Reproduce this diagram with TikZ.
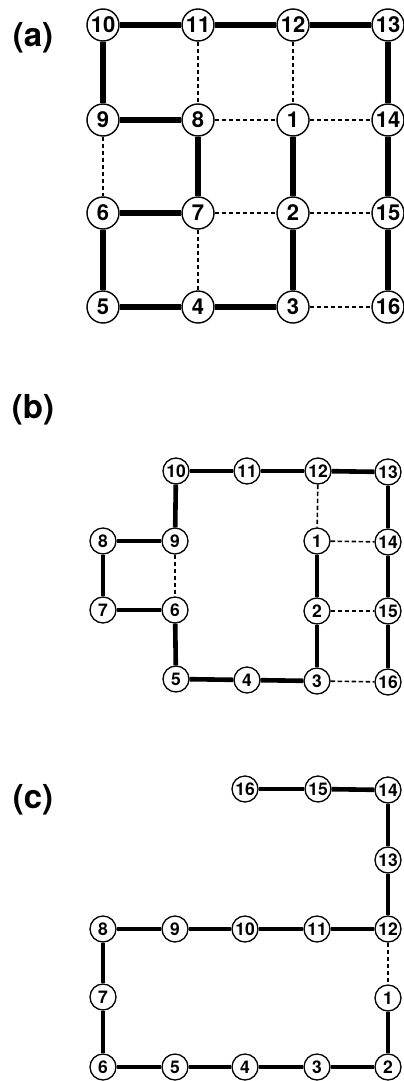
\documentclass[tikz,border=0pt]{standalone}
\usepackage{fontspec}
\setmainfont{TeX Gyre Heros}
\begin{document}
\begin{tikzpicture}[x=1pt,y=-1pt,
  bignode/.style={circle,draw,line width=1.4pt,fill=white,inner sep=0pt,minimum size=32pt,font=\fontsize{22}{22}\selectfont\bfseries},
  smallnode/.style={circle,draw,line width=1.3pt,fill=white,inner sep=0pt,minimum size=26pt,font=\fontsize{17.5}{17.5}\selectfont\bfseries},
  bigthick/.style={line width=6pt},
  smallthick/.style={line width=4.6pt},
  thin/.style={line width=1.6pt,dash pattern=on 4.5pt off 2.5pt},
  panellabel/.style={font=\fontsize{33}{33}\selectfont\bfseries,inner sep=0pt}]
\useasboundingbox (0,0) rectangle (404,1081);
% ---------- (a)
\node[panellabel] (la) at (33,38) {(a)};
\node[bignode] (a10) at (103,25) {10};
\node[bignode] (a11) at (198,25) {11};
\node[bignode] (a12) at (293,25) {12};
\node[bignode] (a13) at (388,25) {13};
\node[bignode] (a9) at (103,120) {9};
\node[bignode] (a8) at (198,120) {8};
\node[bignode] (a1) at (293,120) {1};
\node[bignode] (a14) at (388,120) {14};
\node[bignode] (a6) at (103,213) {6};
\node[bignode] (a7) at (198,213) {7};
\node[bignode] (a2) at (293,213) {2};
\node[bignode] (a15) at (388,213) {15};
\node[bignode] (a5) at (103,307) {5};
\node[bignode] (a4) at (198,307) {4};
\node[bignode] (a3) at (293,307) {3};
\node[bignode] (a16) at (388,307) {16};
\draw[bigthick] (a10) -- (a11); \draw[bigthick] (a11) -- (a12); \draw[bigthick] (a12) -- (a13);
\draw[bigthick] (a10) -- (a9); \draw[bigthick] (a9) -- (a8); \draw[bigthick] (a8) -- (a7);
\draw[bigthick] (a7) -- (a6); \draw[bigthick] (a6) -- (a5); \draw[bigthick] (a5) -- (a4);
\draw[bigthick] (a4) -- (a3); \draw[bigthick] (a3) -- (a2); \draw[bigthick] (a2) -- (a1);
\draw[bigthick] (a13) -- (a14); \draw[bigthick] (a14) -- (a15); \draw[bigthick] (a15) -- (a16);
\draw[thin] (a11) -- (a8); \draw[thin] (a12) -- (a1); \draw[thin] (a8) -- (a1);
\draw[thin] (a1) -- (a14); \draw[thin] (a9) -- (a6); \draw[thin] (a7) -- (a2);
\draw[thin] (a2) -- (a15); \draw[thin] (a7) -- (a4); \draw[thin] (a3) -- (a16);
% ---------- (b)
\node[panellabel] (lb) at (33,410) {(b)};
\node[smallnode] (b10) at (176,471) {10};
\node[smallnode] (b11) at (247,471) {11};
\node[smallnode] (b12) at (318,471) {12};
\node[smallnode] (b13) at (388,472) {13};
\node[smallnode] (b8) at (103,541) {8};
\node[smallnode] (b9) at (175,541) {9};
\node[smallnode] (b1) at (317,541) {1};
\node[smallnode] (b14) at (388,542) {14};
\node[smallnode] (b7) at (103,610) {7};
\node[smallnode] (b6) at (175,610) {6};
\node[smallnode] (b2) at (317,611) {2};
\node[smallnode] (b15) at (388,611) {15};
\node[smallnode] (b5) at (176,679) {5};
\node[smallnode] (b4) at (247,680) {4};
\node[smallnode] (b3) at (317,681) {3};
\node[smallnode] (b16) at (388,682) {16};
\draw[smallthick] (b10) -- (b11); \draw[smallthick] (b11) -- (b12); \draw[smallthick] (b12) -- (b13);
\draw[smallthick] (b10) -- (b9); \draw[smallthick] (b8) -- (b9); \draw[smallthick] (b8) -- (b7);
\draw[smallthick] (b7) -- (b6); \draw[smallthick] (b6) -- (b5); \draw[smallthick] (b5) -- (b4);
\draw[smallthick] (b4) -- (b3); \draw[smallthick] (b3) -- (b2); \draw[smallthick] (b2) -- (b1);
\draw[smallthick] (b13) -- (b14); \draw[smallthick] (b14) -- (b15); \draw[smallthick] (b15) -- (b16);
\draw[thin] (b12) -- (b1); \draw[thin] (b1) -- (b14); \draw[thin] (b9) -- (b6);
\draw[thin] (b2) -- (b15); \draw[thin] (b3) -- (b16);
% ---------- (c)
\node[panellabel] (lc) at (33,800) {(c)};
\node[smallnode] (c16) at (245,789) {16};
\node[smallnode] (c15) at (318,789) {15};
\node[smallnode] (c14) at (388,790) {14};
\node[smallnode] (c13) at (388,860) {13};
\node[smallnode] (c8) at (103,929) {8};
\node[smallnode] (c9) at (175,929) {9};
\node[smallnode] (c10) at (245,929) {10};
\node[smallnode] (c11) at (317,929) {11};
\node[smallnode] (c12) at (388,929) {12};
\node[smallnode] (c7) at (103,997) {7};
\node[smallnode] (c1) at (388,998) {1};
\node[smallnode] (c6) at (103,1067) {6};
\node[smallnode] (c5) at (175,1067) {5};
\node[smallnode] (c4) at (245,1067) {4};
\node[smallnode] (c3) at (317,1067) {3};
\node[smallnode] (c2) at (388,1067) {2};
\draw[smallthick] (c16) -- (c15); \draw[smallthick] (c15) -- (c14); \draw[smallthick] (c14) -- (c13);
\draw[smallthick] (c13) -- (c12); \draw[smallthick] (c12) -- (c11); \draw[smallthick] (c11) -- (c10);
\draw[smallthick] (c10) -- (c9); \draw[smallthick] (c9) -- (c8); \draw[smallthick] (c8) -- (c7);
\draw[smallthick] (c7) -- (c6); \draw[smallthick] (c6) -- (c5); \draw[smallthick] (c5) -- (c4);
\draw[smallthick] (c4) -- (c3); \draw[smallthick] (c3) -- (c2); \draw[smallthick] (c2) -- (c1);
\draw[thin] (c12) -- (c1);
\end{tikzpicture}
\end{document}
